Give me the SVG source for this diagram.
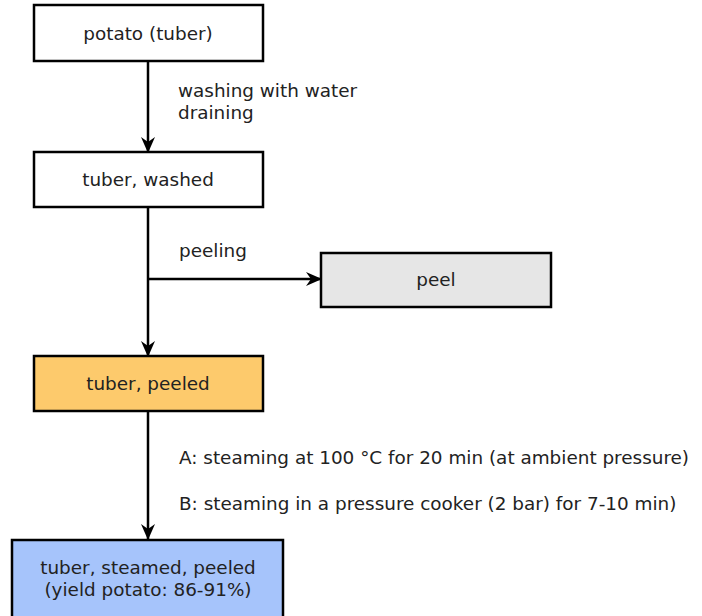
<svg xmlns="http://www.w3.org/2000/svg" width="702" height="616" viewBox="0 0 702 616">
  <style>
    .box { stroke: #000; stroke-width: 2.5; }
    .lbl { font-family: "DejaVu Sans", Verdana, sans-serif; font-size: 18.4px; fill: #222; }
    .mid { text-anchor: middle; dominant-baseline: central; }
    .edge { stroke: #000; stroke-width: 2.5; fill: none; }
  </style>
  <defs>
    <marker id="arrow" viewBox="0 0 16 14" refX="15" refY="7" markerWidth="16" markerHeight="14" markerUnits="userSpaceOnUse" orient="auto">
      <path d="M0,0 L16,7 L0,14 L5,7 Z" fill="#000"/>
    </marker>
  </defs>
  <rect width="702" height="616" fill="#fff"/>

  <g id="connectors">
    <line class="edge" x1="148" y1="61" x2="148" y2="152" marker-end="url(#arrow)"/>
    <line class="edge" x1="148" y1="207" x2="148" y2="356" marker-end="url(#arrow)"/>
    <line class="edge" x1="148" y1="279" x2="321" y2="279" marker-end="url(#arrow)"/>
    <line class="edge" x1="148" y1="411" x2="148" y2="539" marker-end="url(#arrow)"/>
    <text class="lbl" x="178" y="97">washing with water</text>
    <text class="lbl" x="178" y="119">draining</text>
    <text class="lbl" x="179" y="257">peeling</text>
    <text class="lbl" x="179" y="464">A: steaming at 100 °C for 20 min (at ambient pressure)</text>
    <text class="lbl" x="179" y="510">B: steaming in a pressure cooker (2 bar) for 7-10 min)</text>
  </g>

  <g id="potato">
    <rect class="box" x="34" y="5" width="229" height="56" fill="#fff"/>
    <text class="lbl mid" x="148" y="33">potato (tuber)</text>
  </g>
  <g id="washed">
    <rect class="box" x="34" y="152" width="229" height="55" fill="#fff"/>
    <text class="lbl mid" x="148" y="179">tuber, washed</text>
  </g>
  <g id="peel">
    <rect class="box" x="321" y="253" width="230" height="54" fill="#e6e6e6"/>
    <text class="lbl mid" x="436" y="279">peel</text>
  </g>
  <g id="peeled">
    <rect class="box" x="34" y="356" width="229" height="55" fill="#fdca6c"/>
    <text class="lbl mid" x="148" y="383">tuber, peeled</text>
  </g>
  <g id="steamed">
    <rect class="box" x="12" y="540" width="271" height="90" fill="#a6c4fb"/>
    <text class="lbl mid" x="148" y="567">tuber, steamed, peeled</text>
    <text class="lbl mid" x="148" y="589">(yield potato: 86-91%)</text>
  </g>
</svg>
